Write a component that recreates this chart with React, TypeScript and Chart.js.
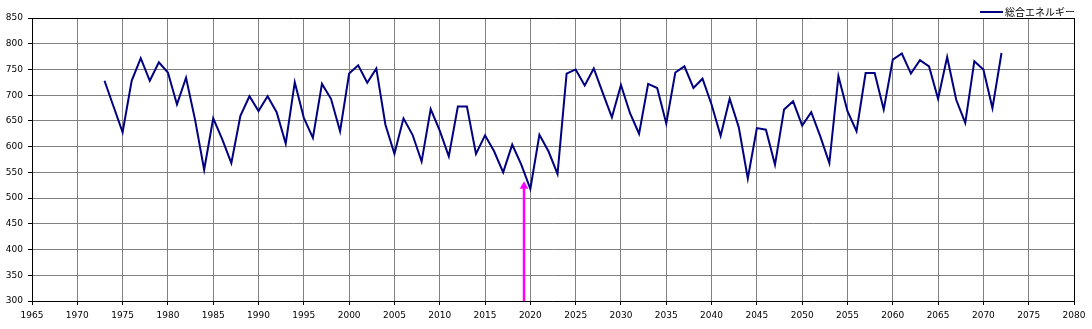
import React, { useEffect, useRef } from "react";
import { Chart, registerables } from "chart.js";

Chart.register(...registerables);

const seriesLabel = "総合エネルギー";

const years = [
  1973, 1974, 1975, 1976, 1977, 1978, 1979, 1980, 1981, 1982,
  1983, 1984, 1985, 1986, 1987, 1988, 1989, 1990, 1991, 1992,
  1993, 1994, 1995, 1996, 1997, 1998, 1999, 2000, 2001, 2002,
  2003, 2004, 2005, 2006, 2007, 2008, 2009, 2010, 2011, 2012,
  2013, 2014, 2015, 2016, 2017, 2018, 2019, 2020, 2021, 2022,
  2023, 2024, 2025, 2026, 2027, 2028, 2029, 2030, 2031, 2032,
  2033, 2034, 2035, 2036, 2037, 2038, 2039, 2040, 2041, 2042,
  2043, 2044, 2045, 2046, 2047, 2048, 2049, 2050, 2051, 2052,
  2053, 2054, 2055, 2056, 2057, 2058, 2059, 2060, 2061, 2062,
  2063, 2064, 2065, 2066, 2067, 2068, 2069, 2070, 2071, 2072,
];

const energy = [
  728, 678, 628, 728, 772, 728, 764, 744, 682, 734,
  652, 555, 655, 614, 568, 660, 698, 669, 698, 667,
  606, 725, 656, 617, 722, 693, 630, 742, 758, 724,
  752, 643, 586, 655, 623, 571, 673, 631, 581, 678,
  678, 586, 622, 591, 550, 604, 565, 518, 623, 591,
  547, 742, 750, 719, 752, 704, 657, 720, 665, 625,
  722, 714, 645, 744, 756, 714, 732, 682, 621, 693,
  638, 538, 636, 633, 565, 672, 688, 641, 667, 620,
  568, 737, 669, 630, 743, 743, 672, 769, 781, 742,
  768, 756, 693, 774, 691, 646, 766, 750, 675, 782,
];

// Arrow marker (x position in years, from y bottom to tip)
const arrowX = [2019.3, 2019.3];
const arrowY = [300, 523];

const xMin = 1965;
const xMax = 2080;
const xStep = 5;
const yMin = 300;
const yMax = 850;
const yStep = 50;

const legendPlugin = {
  id: "customLegend",
  afterDraw(chart: any) {
    const ctx = chart.ctx;
    const ds = chart.data.datasets[0];
    ctx.save();
    ctx.font = '10px "Noto Sans CJK JP", "DejaVu Sans", sans-serif';
    ctx.textBaseline = "middle";
    ctx.textAlign = "right";
    ctx.fillStyle = "#000";
    const right = 1075;
    const y = 12;
    ctx.fillText(ds.label, right, y);
    const w = ctx.measureText(ds.label).width;
    const lineEnd = right - w - 2;
    ctx.strokeStyle = ds.borderColor;
    ctx.lineWidth = 2;
    ctx.beginPath();
    ctx.moveTo(lineEnd - 23, y);
    ctx.lineTo(lineEnd, y);
    ctx.stroke();
    ctx.restore();
  },
};

export default function App() {
  const ref = useRef<HTMLCanvasElement | null>(null);

  useEffect(() => {
    if (!ref.current) return;
    const chart = new Chart(ref.current, {
      type: "line",
      data: {
        datasets: [
          {
            label: seriesLabel,
            data: years.map((x, i) => ({ x, y: energy[i] })),
            borderColor: "#000080",
            backgroundColor: "#000080",
            borderWidth: 2,
            pointRadius: 0,
            tension: 0,
          },
          {
            label: "arrow",
            data: arrowX.map((x, i) => ({ x, y: arrowY[i] })),
            borderColor: "#FF00FF",
            backgroundColor: "#FF00FF",
            borderWidth: 2.5,
            pointRadius: [0, 5],
            pointStyle: "triangle",
            pointBorderWidth: 0,
            clip: false as any,
          },
        ],
      },
      options: {
        animation: false,
        responsive: false,
        maintainAspectRatio: false,
        layout: { padding: { top: 18, right: 18, left: 0, bottom: 0 } },
        plugins: {
          legend: { display: false },
          tooltip: { enabled: false },
        },
        scales: {
          x: {
            type: "linear",
            min: xMin,
            max: xMax,
            ticks: {
              stepSize: xStep,
              color: "#000",
              font: { family: "DejaVu Sans", size: 9 },
              padding: 5,
              maxRotation: 0,
              autoSkip: false,
              callback: (v: any) => String(v),
            },
            grid: {
              color: (c: any) => (c.tick && (c.tick.value === xMax || c.tick.value === xMin) ? "#000" : "#808080"),
              lineWidth: 1,
              tickLength: 4,
              tickColor: "#000",
            },
            border: { color: "#000", width: 1 },
            afterFit: (s: any) => {
              s.height = 28;
            },
          },
          y: {
            type: "linear",
            min: yMin,
            max: yMax,
            ticks: {
              stepSize: yStep,
              color: "#000",
              font: { family: "DejaVu Sans", size: 9 },
              padding: 5,
            },
            grid: {
              color: (c: any) => (c.tick && c.tick.value === yMax ? "#000" : "#808080"),
              lineWidth: 1,
              tickLength: 4,
              tickColor: "#000",
            },
            border: { color: "#000", width: 1 },
            afterFit: (s: any) => {
              s.width = 32;
            },
          },
        },
      },
      plugins: [legendPlugin],
    });
    return () => chart.destroy();
  }, []);

  return (
    <div style={{ position: "absolute", left: 0, top: 0, width: 1092, height: 329, background: "#fff" }}>
      <canvas ref={ref} width={1092} height={329} style={{ width: 1092, height: 329, display: "block" }} />
    </div>
  );
}
